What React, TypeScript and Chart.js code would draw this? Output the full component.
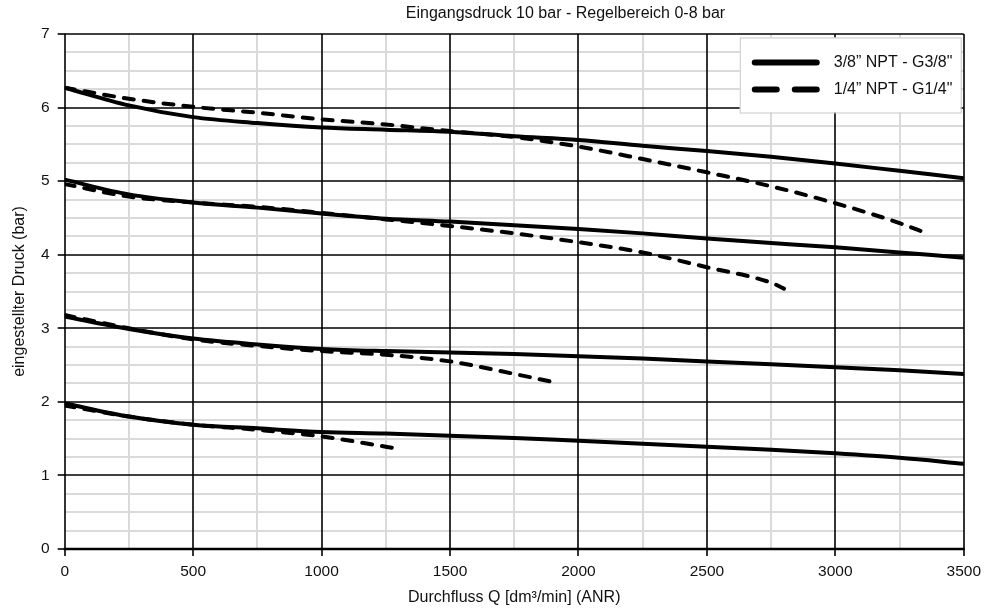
import React, { useEffect, useRef } from 'react';
import { Chart, registerables } from 'chart.js';

Chart.register(...registerables);

const chartTitle = 'Eingangsdruck 10 bar - Regelbereich 0-8 bar';
const xTitle = 'Durchfluss Q [dm³/min] (ANR)';
const yTitle = 'eingestellter Druck (bar)';
const seriesNames = ['3/8” NPT - G3/8"', '1/4” NPT - G1/4"'];

// x values (dm³/min)
const flowSolid = [0, 250, 500, 750, 1000, 1250, 1500, 1750, 2000, 2250, 2500, 2750, 3000, 3250, 3500];

// 3/8" NPT - G3/8" (solid)
const solid6 = [6.27, 6.03, 5.87, 5.79, 5.73, 5.7, 5.67, 5.61, 5.56, 5.48, 5.41, 5.33, 5.24, 5.14, 5.04];
const solid5 = [5.02, 4.82, 4.71, 4.64, 4.56, 4.49, 4.45, 4.4, 4.35, 4.29, 4.22, 4.16, 4.1, 4.03, 3.96];
const solid3 = [3.16, 2.99, 2.86, 2.78, 2.72, 2.69, 2.67, 2.65, 2.62, 2.59, 2.55, 2.51, 2.47, 2.43, 2.38];
const solid2 = [1.98, 1.8, 1.69, 1.64, 1.59, 1.57, 1.54, 1.51, 1.47, 1.43, 1.39, 1.35, 1.3, 1.24, 1.16];

// 1/4" NPT - G1/4" (dashed)
const flowDash6 = [0, 250, 500, 750, 1000, 1250, 1500, 1750, 2000, 2250, 2500, 2750, 3000, 3250, 3350];
const dash6 = [6.27, 6.12, 6.01, 5.93, 5.84, 5.77, 5.68, 5.6, 5.47, 5.3, 5.12, 4.93, 4.7, 4.43, 4.3];
const flowDash5 = [0, 250, 500, 750, 1000, 1250, 1500, 1750, 2000, 2250, 2500, 2750, 2800];
const dash5 = [4.96, 4.79, 4.71, 4.65, 4.57, 4.48, 4.39, 4.29, 4.17, 4.03, 3.83, 3.62, 3.54];
const flowDash3 = [0, 250, 500, 750, 1000, 1250, 1500, 1750, 1900];
const dash3 = [3.18, 3.0, 2.85, 2.76, 2.69, 2.64, 2.55, 2.38, 2.27];
const flowDash2 = [0, 250, 500, 750, 1000, 1250, 1300];
const dash2 = [1.95, 1.8, 1.69, 1.62, 1.53, 1.39, 1.36];

const X_MAJOR = 500;
const Y_MAJOR = 1;

const FONT = "'Liberation Sans', Arial, Helvetica, sans-serif";

const pts = (xs: number[], ys: number[]) => xs.map((x, i) => ({ x, y: ys[i] }));

const solidDs = (ys: number[]) => ({
  data: pts(flowSolid, ys),
  borderColor: '#000',
  borderWidth: 4,
  pointRadius: 0,
  cubicInterpolationMode: 'monotone' as const,
  borderCapStyle: 'round' as const,
  fill: false,
});
const dashDs = (xs: number[], ys: number[]) => ({
  data: pts(xs, ys),
  borderColor: '#000',
  borderWidth: 4,
  borderDash: [10, 10],
  borderCapStyle: 'round' as const,
  pointRadius: 0,
  cubicInterpolationMode: 'monotone' as const,
  fill: false,
});

const isMajor = (v: number, step: number) => Math.abs(v / step - Math.round(v / step)) < 1e-9;

// draws the black major grid on top of the grey minor grid
const majorGridPlugin = {
  id: 'majorGrid',
  beforeDatasetsDraw(chart: any) {
    const { ctx, chartArea, scales } = chart;
    const { left, right, top, bottom } = chartArea;
    ctx.save();
    ctx.strokeStyle = '#000';
    ctx.lineWidth = 1.6;
    scales.x.ticks.forEach((t: any) => {
      if (!isMajor(t.value, X_MAJOR)) return;
      const px = Math.round(scales.x.getPixelForValue(t.value));
      ctx.beginPath();
      ctx.moveTo(px, top);
      ctx.lineTo(px, bottom);
      ctx.stroke();
    });
    scales.y.ticks.forEach((t: any) => {
      if (!isMajor(t.value, Y_MAJOR)) return;
      const py = Math.round(scales.y.getPixelForValue(t.value));
      ctx.beginPath();
      ctx.moveTo(left, py);
      ctx.lineTo(right, py);
      ctx.stroke();
    });
    // thicker base line
    ctx.lineWidth = 2.5;
    ctx.beginPath();
    ctx.moveTo(left - 1, Math.round(bottom));
    ctx.lineTo(right + 1, Math.round(bottom));
    ctx.stroke();
    ctx.restore();
  },
};

const decorPlugin = {
  id: 'decor',
  afterDraw(chart: any) {
    const { ctx, chartArea } = chart;
    ctx.save();
    // title
    ctx.fillStyle = '#111';
    ctx.font = `16px ${FONT}`;
    ctx.textAlign = 'center';
    ctx.textBaseline = 'middle';
    ctx.fillText(chartTitle, chartArea.left + (chartArea.right - chartArea.left) * 0.557, chartArea.top - 20);

    // legend
    const bx = chartArea.right - 224;
    const by = chartArea.top + 3.5;
    const bw = 221;
    const bh = 75;
    ctx.fillStyle = '#fff';
    ctx.fillRect(bx, by, bw, bh);
    ctx.strokeStyle = '#c8c8c8';
    ctx.lineWidth = 1;
    ctx.strokeRect(bx + 0.5, by + 0.5, bw, bh);

    const rows = [by + 25, by + 52];
    ctx.strokeStyle = '#000';
    ctx.lineWidth = 6;
    ctx.lineCap = 'round';
    rows.forEach((y, i) => {
      ctx.beginPath();
      ctx.setLineDash(i === 0 ? [] : [22, 18]);
      ctx.moveTo(bx + 15, y);
      ctx.lineTo(bx + 77, y);
      ctx.stroke();
    });
    ctx.setLineDash([]);
    ctx.fillStyle = '#111';
    ctx.textAlign = 'left';
    ctx.font = `16px ${FONT}`;
    rows.forEach((y, i) => {
      ctx.fillText(seriesNames[i], bx + 94, y);
    });
    ctx.restore();
  },
};

export default function App() {
  const ref = useRef<HTMLCanvasElement | null>(null);

  useEffect(() => {
    if (!ref.current) return;
    const chart = new Chart(ref.current, {
      type: 'line',
      data: {
        datasets: [
          { label: seriesNames[0], ...solidDs(solid6) },
          { label: seriesNames[0], ...solidDs(solid5) },
          { label: seriesNames[0], ...solidDs(solid3) },
          { label: seriesNames[0], ...solidDs(solid2) },
          { label: seriesNames[1], ...dashDs(flowDash6, dash6) },
          { label: seriesNames[1], ...dashDs(flowDash5, dash5) },
          { label: seriesNames[1], ...dashDs(flowDash3, dash3) },
          { label: seriesNames[1], ...dashDs(flowDash2, dash2) },
        ] as any,
      },
      options: {
        animation: false,
        responsive: false,
        layout: { padding: { top: 34, right: 20, left: 0, bottom: 0 } },
        plugins: {
          legend: { display: false },
          title: { display: false },
          tooltip: { enabled: false },
        },
        scales: {
          x: {
            type: 'linear',
            min: 0,
            max: 3500,
            afterFit: (s: any) => { s.height = 63; },
            ticks: {
              stepSize: 250,
              autoSkip: false,
              maxRotation: 0,
              padding: 6,
              color: '#111',
              font: { family: FONT, size: 15.5 },
              callback: (v: any) => (isMajor(Number(v), X_MAJOR) ? String(v) : ''),
            },
            grid: {
              color: (c: any) => (c.tick && isMajor(c.tick.value, X_MAJOR) ? 'rgba(0,0,0,0)' : '#dadada'),
              lineWidth: 2,
              tickColor: (c: any) => (c.tick && isMajor(c.tick.value, X_MAJOR) ? '#000' : 'rgba(0,0,0,0)'),
              tickWidth: 1.6,
              tickLength: 7,
            },
            border: { display: false },
            title: {
              display: true,
              text: xTitle,
              color: '#111',
              font: { family: FONT, size: 16 },
              padding: { top: 0, bottom: 5 },
            },
          },
          y: {
            type: 'linear',
            min: 0,
            max: 7,
            afterFit: (s: any) => { s.width = 64.7; },
            ticks: {
              stepSize: 0.25,
              autoSkip: false,
              padding: 8,
              color: '#111',
              font: { family: FONT, size: 15.5 },
              callback: (v: any) => (isMajor(Number(v), Y_MAJOR) ? String(v) : ''),
            },
            grid: {
              color: (c: any) => (c.tick && isMajor(c.tick.value, Y_MAJOR) ? 'rgba(0,0,0,0)' : '#dadada'),
              lineWidth: 2,
              tickColor: (c: any) => (c.tick && isMajor(c.tick.value, Y_MAJOR) ? '#000' : 'rgba(0,0,0,0)'),
              tickWidth: 1.6,
              tickLength: 7,
            },
            border: { display: false },
            title: {
              display: true,
              text: yTitle,
              color: '#111',
              font: { family: FONT, size: 16 },
              padding: { top: 10, bottom: 0 },
            },
          },
        },
      },
      plugins: [majorGridPlugin, decorPlugin],
    });
    return () => chart.destroy();
  }, []);

  return (
    <div style={{ position: 'absolute', left: 0, top: 0, width: 987, height: 612, background: '#fff' }}>
      <canvas ref={ref} width={987} height={612} />
    </div>
  );
}
